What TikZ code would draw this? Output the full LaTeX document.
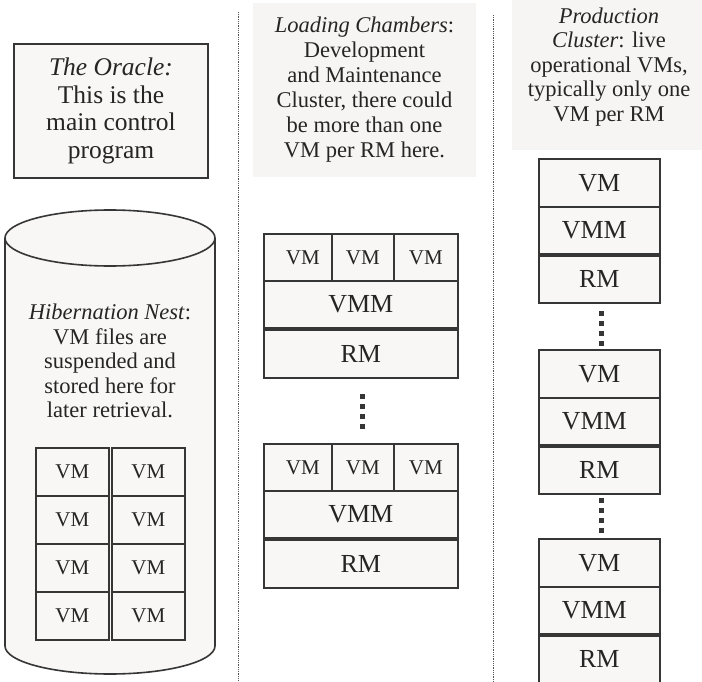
\documentclass[tikz,border=0pt]{standalone}
\usepackage{fontspec}
\setmainfont{Liberation Serif}
\definecolor{fillc}{HTML}{F8F7F5}
\definecolor{notec}{HTML}{F6F5F3}
\definecolor{linec}{HTML}{363636}
\definecolor{textc}{HTML}{252525}
\begin{document}
\begin{tikzpicture}[x=1pt,y=-1pt,
  cell/.style={draw=linec, fill=fillc, line width=1.6pt, inner sep=0pt, anchor=north west, text=textc},
  bigl/.style={font=\fontsize{26}{26}\selectfont},
  smalll/.style={font=\fontsize{21}{21}\selectfont},
  vmcell/.style={cell, smalll, minimum height=47pt},
  wide/.style={cell, bigl, minimum width=194pt},
  pcell/.style={cell, bigl, minimum width=121pt},
  gcell/.style={cell, smalll, minimum width=73pt, minimum height=48pt},
  txt/.style={align=center, text=textc, inner sep=0pt},
  sep/.style={draw=linec!85, line width=0.9pt, dash pattern=on 0.9pt off 0.9pt},
  dotsq/.style={draw=linec, line width=5pt, dash pattern=on 5pt off 5pt}]
\useasboundingbox (0,0) rectangle (702,682);

% separators
\coordinate (s1a) at (238,12); \coordinate (s1b) at (238,682);
\coordinate (s2a) at (493,15); \coordinate (s2b) at (493,682);
\draw[sep] (s1a) -- (s1b);
\draw[sep] (s2a) -- (s2b);

% Oracle
\node[txt, draw=linec, line width=1.6pt, fill=fillc, minimum width=194pt, minimum height=134pt,
  font=\fontsize{25.5}{27.5}\selectfont] (oracle) at (111,111)
  {\textit{The Oracle:}\\This is the\\main control\\program};

% Cylinder
\fill[fillc] (110,646) ellipse [x radius=105pt, y radius=28pt];
\fill[fillc] (5,238) rectangle (215,646);
\draw[linec, line width=1.6pt] (5,238) -- (5,646) arc[start angle=180, end angle=360, x radius=105pt, y radius=28pt] -- (215,238);
\draw[linec, line width=1.6pt, fill=fillc] (110,238) ellipse [x radius=105pt, y radius=28pt];
\node[txt, font=\fontsize{22.5}{24.5}\selectfont] (hibtxt) at (110,361)
  {\textit{Hibernation Nest}:\\VM files are\\suspended and\\stored here for\\later retrieval.};
\foreach \r [count=\i] in {447,495,543,591}{
  \node[gcell] (hl\i) at (35,\r) {VM};
  \node[gcell] (hr\i) at (111,\r) {VM};
}

% Loading chambers
\node[txt, fill=notec, minimum width=223pt, minimum height=174pt,
  font=\fontsize{22.5}{25}\selectfont] (loading) at (364.5,90)
  {\textit{Loading Chambers}:\\Development\\and Maintenance\\Cluster, there could\\be more than one\\VM per RM here.};
\foreach \t/\k in {233/1,443/2}{
  \node[vmcell, minimum width=68pt] (l\k vma) at (263,\t) {\hspace*{10pt}VM};
  \node[vmcell, minimum width=62pt] (l\k vmb) at (331,\t) {VM};
  \node[vmcell, minimum width=64pt] (l\k vmc) at (393,\t) {VM};
  \node[wide, minimum height=47pt] (l\k vmm) at (263,\t+47) {VMM};
  \node[wide, minimum height=48pt] (l\k rm) at (263,\t+96) {RM};
}
\draw[dotsq] ([xshift=2pt,yshift=-15.5pt]l1rm.south) -- ([xshift=2pt,yshift=-50.5pt]l1rm.south);

% Production cluster
\node[fill=notec, minimum width=190pt, minimum height=150pt, inner sep=0pt] (prodbg) at (607,75) {};
\node[txt, font=\fontsize{22.5}{24.5}\selectfont] (prodtxt) at (609,67)
  {\textit{Production}\\\textit{Cluster}: live\\operational VMs,\\typically only one\\VM per RM};
\foreach \t/\k in {158/1,349/2,538/3}{
  \node[pcell, minimum height=48pt] (p\k vm) at (538,\t) {VM};
  \node[pcell, minimum height=47pt] (p\k vmm) at (538,\t+48) {VMM\hspace*{10pt}};
  \node[pcell, minimum height=47pt] (p\k rm) at (538,\t+97) {RM};
}
\draw[dotsq] ([xshift=2.5pt,yshift=-7.5pt]p1rm.south) -- ([xshift=2.5pt,yshift=-42.5pt]p1rm.south);
\draw[dotsq] ([xshift=2.5pt,yshift=-3.5pt]p2rm.south) -- ([xshift=2.5pt,yshift=-38.5pt]p2rm.south);
\end{tikzpicture}
\end{document}
